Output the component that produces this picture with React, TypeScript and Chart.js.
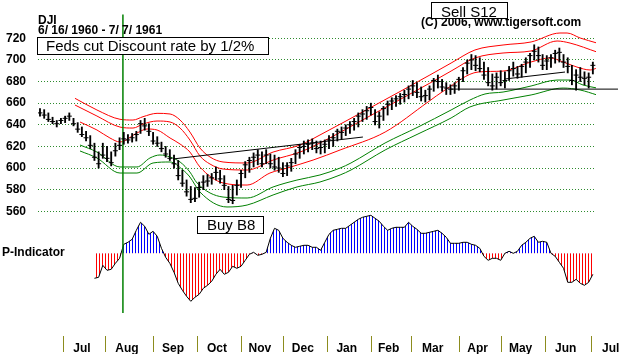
import React, { useEffect, useRef } from 'react';
import { Chart, registerables } from 'chart.js';

Chart.register(...registerables);

const FONT = "'Liberation Sans', Arial, Helvetica, sans-serif";

// Daily DJI bars, sampled every 2nd trading day starting 6/16/1960 (trading-day index 0)
const barStep = 2;
const highs = [
  655, 654, 651, 647, 644, 646, 648, 651, 646, 642,
  638, 634, 630, 623, 615, 623, 620, 615, 623, 628,
  633, 631, 632, 634, 644, 646, 641, 633, 629, 624,
  620, 617, 612, 607, 598, 589, 583, 582, 587, 593,
  594, 595, 601, 598, 593, 583, 584, 589, 598, 606,
  610, 614, 617, 615, 617, 613, 612, 610, 605, 605,
  609, 617, 622, 625, 626, 627, 625, 625, 626, 630,
  632, 636, 638, 640, 643, 646, 651, 654, 657, 660,
  654, 652, 657, 662, 665, 667, 669, 672, 676, 681,
  679, 675, 672, 676, 683, 686, 682, 679, 677, 679,
  684, 693, 700, 705, 704, 702, 698, 693, 687, 688,
  690, 689, 694, 698, 694, 696, 702, 706, 714, 712,
  705, 704, 705, 709, 711, 705, 702, 695, 691, 693,
  689, 688, 698,
];
const lows = [
  648, 646, 643, 641, 638, 641, 642, 644, 639, 633,
  629, 625, 618, 607, 600, 609, 606, 602, 611, 617,
  622, 623, 624, 625, 632, 635, 630, 622, 620, 615,
  610, 607, 600, 589, 583, 574, 568, 569, 573, 580,
  583, 585, 589, 586, 580, 568, 567, 575, 582, 591,
  596, 601, 603, 601, 604, 600, 598, 596, 592, 593,
  597, 604, 609, 613, 615, 617, 614, 613, 614, 618,
  620, 625, 627, 630, 632, 635, 638, 643, 645, 649,
  640, 637, 644, 649, 654, 657, 659, 661, 664, 667,
  665, 662, 661, 663, 671, 674, 671, 668, 668, 669,
  672, 680, 687, 691, 690, 689, 682, 676, 672, 673,
  676, 674, 681, 685, 683, 684, 688, 693, 700, 698,
  691, 691, 693, 697, 698, 693, 688, 677, 672, 680,
  677, 674, 687,
];
const closes = [
  651, 649, 645, 643, 641, 644, 646, 648, 641, 636,
  631, 628, 621, 610, 604, 612, 609, 605, 616, 621,
  627, 626, 628, 631, 641, 639, 634, 625, 623, 618,
  613, 609, 604, 593, 586, 578, 571, 572, 582, 587,
  588, 591, 596, 590, 584, 571, 570, 584, 595, 603,
  607, 610, 612, 604, 612, 604, 601, 600, 595, 602,
  605, 613, 619, 620, 622, 623, 618, 619, 622, 626,
  628, 634, 633, 637, 640, 643, 648, 650, 653, 656,
  643, 648, 655, 659, 662, 664, 666, 668, 673, 676,
  670, 666, 667, 673, 681, 680, 675, 674, 673, 676,
  682, 690, 697, 700, 695, 692, 686, 679, 676, 684,
  679, 681, 690, 692, 687, 694, 698, 704, 708, 704,
  695, 699, 702, 706, 707, 698, 694, 681, 686, 684,
  683, 684, 695,
];

// P-Indicator, every 2nd trading day from trading day 26
const pStart = 26;
const pIndicator = [
  -250, -240, -120, -170, -160, -100, -50, 90, 110, 140,
  230, 310, 270, 190, 220, 170, 50, -40, -100, -190,
  -300, -370, -430, -480, -440, -410, -350, -320, -280, -210,
  -160, -210, -190, -130, -150, -130, -70, -10, 10, -20,
  -10, 10, 150, 250, 230, 150, 110, 80, 60, 70,
  80, 80, 60, 60, 30, 110, 190, 230, 240, 250,
  250, 280, 310, 340, 360, 370, 380, 350, 320, 270,
  230, 250, 260, 260, 260, 310, 270, 240, 200, 200,
  210, 220, 230, 200, 160, 100, 100, 100, 110, 110,
  90, 80, 50, -30, -70, -50, -50, -70, 0, 20,
  0, 20, 80, 110, 150, 170, 110, 120, 110, 0,
  -30, -90, -150, -290, -290, -260, -300, -320, -290, -210,
];

// Bands: [trading day, price]
const redOuter = [
  [16.7, 664.5], [27.2, 653.7], [38.2, 645.1], [44.4, 644.4], [49.2, 647.5], [55.9, 650.6],
  [62.1, 650.0], [66.9, 644.4], [71.6, 633.3], [76.4, 618.5], [81.2, 610.2], [87.4, 605.6],
  [98.9, 604.7], [111.3, 614.8], [124.2, 621.3], [133.7, 630.6], [156.6, 654.6], [172.4, 671.3],
  [186.2, 686.1], [196.3, 697.1], [207.7, 709.2], [221.1, 713.8], [234.5, 716.6], [248.3, 724.9],
  [251.7, 724.9], [257.9, 720.3], [266.0, 715.6],
];
const redMiddle = [
  [16.7, 658.3], [27.2, 648.1], [38.2, 637.9], [44.4, 637.0], [49.2, 640.7], [55.9, 643.5],
  [62.1, 642.6], [66.9, 637.0], [71.6, 625.9], [76.4, 611.1], [81.2, 603.7], [87.4, 599.1],
  [98.9, 598.2], [111.3, 607.4], [124.2, 614.8], [133.7, 623.2], [156.6, 647.2], [172.4, 663.9],
  [186.2, 678.6], [196.3, 689.7], [207.7, 701.8], [221.1, 706.4], [234.5, 708.3], [246.9, 717.5],
  [253.1, 715.6], [266.0, 707.3],
];
const redInner = [
  [19.1, 642.6], [27.2, 635.2], [33.4, 627.8], [38.2, 624.1], [46.3, 632.4], [51.1, 636.1],
  [55.9, 635.2], [62.1, 627.8], [66.9, 622.2], [71.6, 614.8], [76.4, 600.9], [87.4, 586.2],
  [98.9, 584.3], [109.8, 595.4], [118.0, 600.0], [130.4, 607.4], [143.3, 616.7], [164.8, 633.3],
  [185.3, 661.1], [193.4, 672.2], [209.2, 688.8], [221.1, 689.7], [234.5, 698.1], [243.6, 701.8],
  [249.8, 698.1], [256.4, 693.4], [262.7, 690.7], [266.0, 692.5],
];
const greenUpper = [
  [19.1, 621.3], [27.2, 614.8], [38.2, 601.0], [46.3, 601.0], [52.5, 609.3], [57.3, 612.1],
  [62.1, 610.2], [66.9, 605.6], [71.6, 596.3], [75.0, 586.2], [87.4, 573.2], [98.9, 572.3],
  [111.3, 582.5], [122.7, 588.9], [133.7, 593.6], [143.3, 600.0], [148.5, 604.7], [164.8, 623.2],
  [180.5, 637.9], [196.3, 653.7], [205.3, 662.9], [212.5, 668.5], [221.1, 670.3], [234.5, 675.9],
  [246.9, 681.4], [253.1, 681.4], [259.3, 676.8], [266.0, 674.0],
];
const greenLower = [
  [19.1, 615.8], [27.2, 609.3], [38.2, 595.4], [46.3, 595.4], [54.0, 604.7], [62.1, 605.6],
  [68.3, 598.2], [71.6, 591.7], [76.4, 577.8], [89.3, 564.0], [98.9, 565.8], [111.3, 575.1],
  [122.7, 582.5], [133.7, 587.1], [143.3, 593.6], [148.5, 598.2], [164.8, 616.7], [180.5, 631.5],
  [196.3, 646.3], [205.3, 656.5], [221.1, 662.9], [234.5, 667.6], [249.8, 674.0], [257.9, 672.2],
  [266.0, 667.6],
];

// Trendlines [trading day, price]
const trendA = [[63.5, 608.4], [154.2, 628.7]];
const trendB = [[222.1, 682.4], [250.7, 688.8]];
const supportLevel = 673;
const supportFrom = 195.8;
const supportTo = 276;

const fedCutDay = 39.6;
const fedLineTop = 742;
const fedLineBottom = 466;

const monthStarts = [11, 31, 54, 75, 96, 116, 137, 158, 177, 200, 220, 241, 263];
const monthNames = ['Jul', 'Aug', 'Sep', 'Oct', 'Nov', 'Dec', 'Jan', 'Feb', 'Mar', 'Apr', 'May', 'Jun', 'Jul'];
const priceTicks = [560, 580, 600, 620, 640, 660, 680, 700, 720];

const toXY = (arr: number[][]) => arr.map(([x, y]) => ({ x, y }));

function box(ctx: CanvasRenderingContext2D, text: string, x: number, y: number, w: number, h: number, tx: number, ty: number) {
  ctx.fillStyle = '#fff';
  ctx.fillRect(x, y, w, h);
  ctx.strokeStyle = '#000';
  ctx.lineWidth = 1;
  ctx.strokeRect(x + 0.5, y + 0.5, w, h);
  ctx.fillStyle = '#000';
  ctx.font = `15px ${FONT}`;
  ctx.fillText(text, tx, ty);
}

const annotate = {
  id: 'annotate',
  afterDraw(chart: any) {
    const { ctx, chartArea, scales } = chart;
    const xs = scales.x;
    ctx.save();
    ctx.strokeStyle = '#8c8c1e';
    ctx.lineWidth = 1;
    monthStarts.forEach((d) => {
      const px = Math.round(xs.getPixelForValue(d)) + 0.5;
      ctx.beginPath();
      ctx.moveTo(px, chartArea.bottom + 17);
      ctx.lineTo(px, chartArea.bottom + 33);
      ctx.stroke();
    });
    ctx.fillStyle = '#000';
    ctx.textAlign = 'left';
    ctx.textBaseline = 'alphabetic';
    ctx.font = `bold 12px ${FONT}`;
    ctx.fillText('DJI', 38, 24);
    ctx.fillText('6/ 16/ 1960 - 7/ 7/ 1961', 38, 34);
    ctx.fillText('(C) 2006, www.tigersoft.com', 421, 26);
    ctx.fillText('P-Indicator', 2, 255.5);
    box(ctx, 'Feds cut Discount rate by 1/2%', 37, 37, 231, 17, 46, 51);
    box(ctx, 'Sell S12', 431, 2, 76, 16, 441, 17);
    box(ctx, 'Buy B8', 197, 216, 66, 17, 207, 229.5);
    ctx.restore();
  },
};

function stripe(color: string) {
  const c = document.createElement('canvas');
  c.width = 3;
  c.height = 1;
  const g = c.getContext('2d')!;
  g.fillStyle = color;
  g.fillRect(0, 0, 1, 1);
  return g.createPattern(c, 'repeat')!;
}

export default function App() {
  const ref = useRef<HTMLCanvasElement>(null);
  useEffect(() => {
    const canvas = ref.current!;
    const labelPos = monthStarts.map((d, k) =>
      k < monthStarts.length - 1 ? (d + monthStarts[k + 1]) / 2 - 1 : d + 9.5
    );
    const line = (data: any, color: string, extra: any = {}) => ({
      type: 'line',
      data,
      borderColor: color,
      borderWidth: 1,
      pointRadius: 0,
      fill: false,
      cubicInterpolationMode: 'monotone',
      yAxisID: 'y',
      ...extra,
    });
    const chart = new Chart(canvas, {
      type: 'line',
      data: {
        datasets: [
          {
            type: 'bar',
            data: highs.map((h, i) => ({ x: i * barStep, y: [lows[i], h] })),
            backgroundColor: '#000',
            borderWidth: 0,
            barThickness: 1.2,
            yAxisID: 'y',
          } as any,
          {
            type: 'line',
            data: closes.map((c, i) => ({ x: i * barStep, y: c })),
            showLine: false,
            pointStyle: 'line',
            pointRadius: 2.5,
            pointBorderColor: '#000',
            pointBorderWidth: 1,
            yAxisID: 'y',
          },
          line(toXY(trendA), '#000', { cubicInterpolationMode: 'default' }),
          line(toXY(trendB), '#000', { cubicInterpolationMode: 'default' }),
          line([{ x: supportFrom, y: supportLevel }, { x: supportTo, y: supportLevel }], '#000', { clip: false }),
          line([{ x: fedCutDay, y: fedLineTop }, { x: fedCutDay, y: fedLineBottom }], '#008000', { clip: false, borderWidth: 1.5 }),
          line(toXY(redOuter), '#ff0000'),
          line(toXY(redMiddle), '#ff0000'),
          line(toXY(redInner), '#ff0000'),
          line(toXY(greenUpper), '#008000'),
          line(toXY(greenLower), '#008000'),
          {
            type: 'line',
            data: pIndicator.map((v, k) => ({ x: pStart + k * barStep, y: v })),
            borderColor: '#000',
            borderWidth: 1,
            pointRadius: 0,
            yAxisID: 'yP',
            fill: { target: 'origin', above: stripe('#0000ff'), below: stripe('#ff0000') },
          },
        ] as any,
      },
      options: {
        responsive: false,
        animation: false,
        events: [],
        layout: { padding: { top: 21, right: 42, left: 0, bottom: 0 } },
        plugins: { legend: { display: false }, tooltip: { enabled: false } },
        scales: {
          x: {
            type: 'linear',
            min: -0.95,
            max: 265.5,
            offset: false,
            grid: { display: false },
            border: { display: false },
            afterBuildTicks: (s: any) => {
              s.ticks = labelPos.map((v) => ({ value: v }));
            },
            afterFit: (s: any) => {
              s.height = 35;
              s.paddingLeft = 0;
              s.paddingRight = 0;
            },
            ticks: {
              autoSkip: false,
              maxRotation: 0,
              padding: 14,
              color: '#000',
              font: { family: FONT, size: 12, weight: 'bold' },
              callback: (_v: any, i: number) => monthNames[i],
            },
          },
          y: {
            type: 'linear',
            position: 'left',
            min: 460.4,
            max: 736,
            afterBuildTicks: (s: any) => {
              s.ticks = priceTicks.map((v) => ({ value: v }));
            },
            afterFit: (s: any) => {
              s.width = 38;
            },
            grid: { color: '#2e8b2e', lineWidth: 1, drawTicks: false },
            border: { display: false, dash: [1, 2] },
            ticks: {
              padding: 12,
              color: '#000',
              font: { family: FONT, size: 12, weight: 'bold' },
              callback: (v: any) => String(v),
            },
          },
          yP: { type: 'linear', display: false, min: -657, max: 2323 },
        },
      } as any,
      plugins: [annotate],
    });
    return () => chart.destroy();
  }, []);
  return (
    <div style={{ position: 'fixed', left: 0, top: 0, width: 638, height: 354, background: '#fff' }}>
      <canvas ref={ref} width={638} height={354} style={{ display: 'block', width: 638, height: 354 }} />
    </div>
  );
}
